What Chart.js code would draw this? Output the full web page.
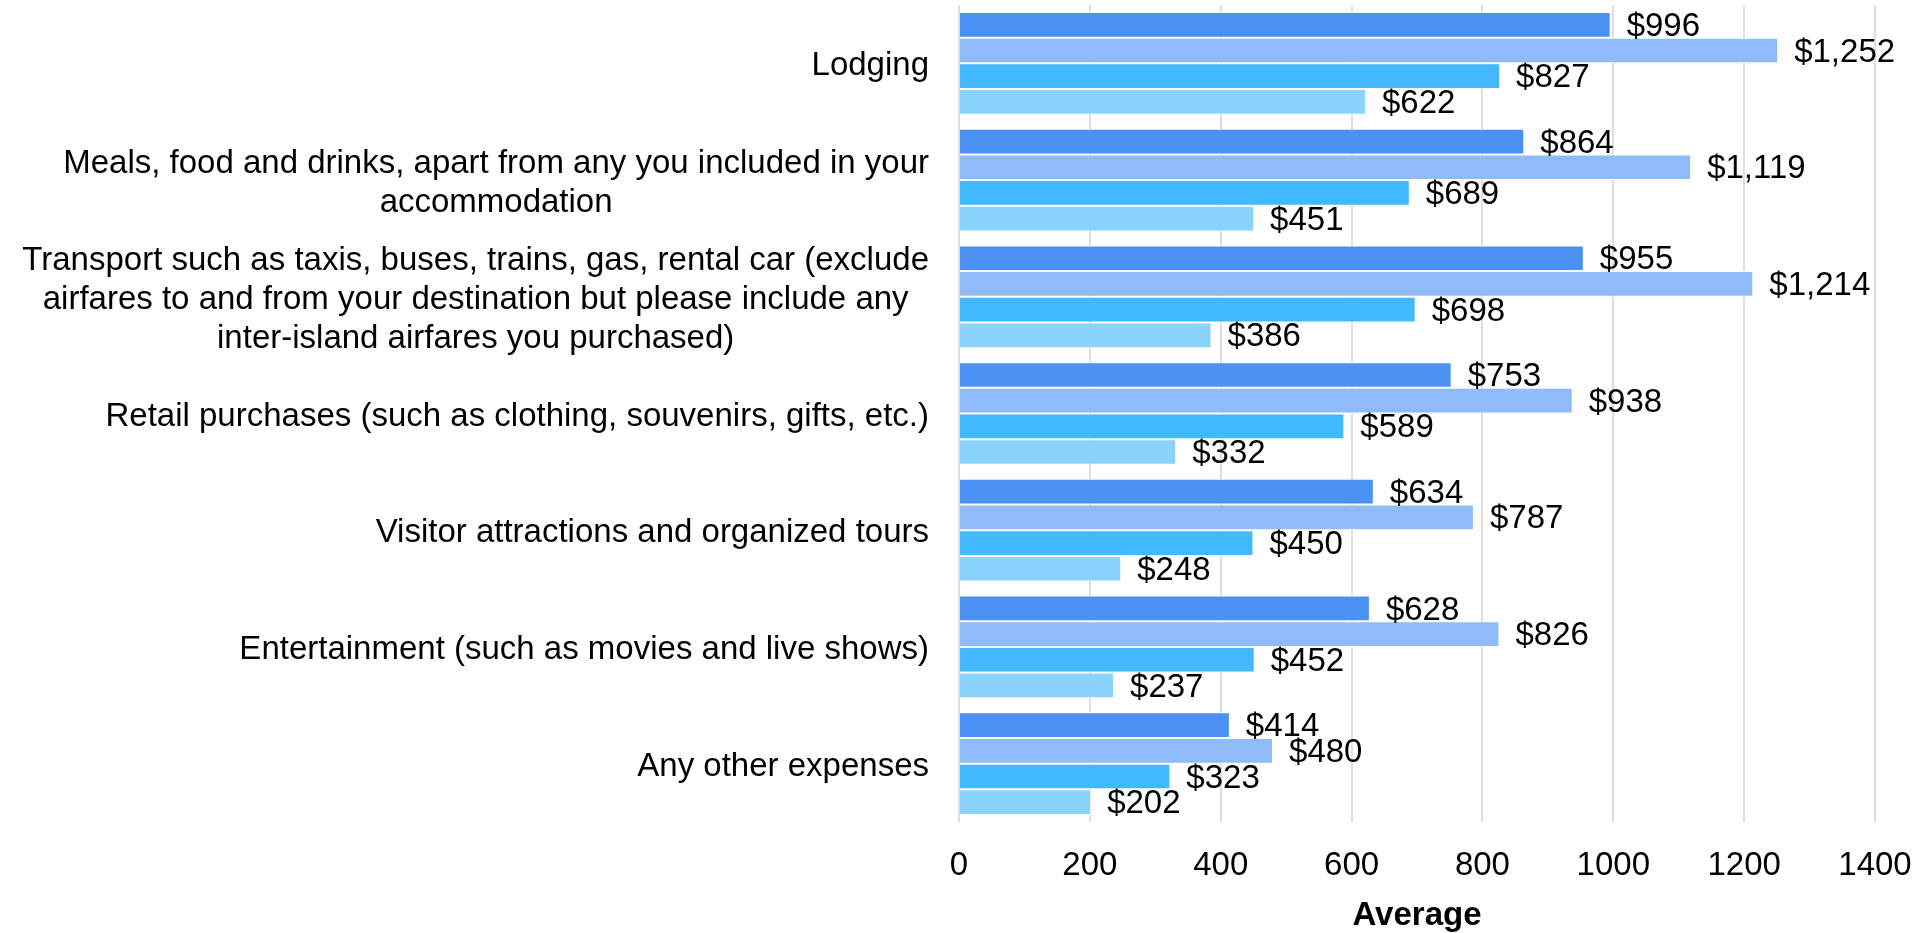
<!DOCTYPE html>
<html lang="en">
<head>
  <meta charset="UTF-8">
  <title>Average spending by category</title>
  <script src="https://cdn.jsdelivr.net/npm/chart.js"></script>
  <style>
    body { margin: 0; background: #fff; }
  </style>
</head>
<body>
  <canvas id="spendChart" width="1916" height="933"></canvas>

  <script>
    const categories = [
      ["Lodging"],
      ["Meals, food and drinks, apart from any you included in your", "accommodation"],
      ["Transport such as taxis, buses, trains, gas, rental car (exclude", "airfares to and from your destination but please include any", "inter-island airfares you purchased)"],
      ["Retail purchases (such as clothing, souvenirs, gifts, etc.)"],
      ["Visitor attractions and organized tours"],
      ["Entertainment (such as movies and live shows)"],
      ["Any other expenses"]
    ];

    const series1 = [996, 864, 955, 753, 634, 628, 414];
    const series2 = [1252, 1119, 1214, 938, 787, 826, 480];
    const series3 = [827, 689, 698, 589, 450, 452, 323];
    const series4 = [622, 451, 386, 332, 248, 237, 202];

    const xTicks = [0, 200, 400, 600, 800, 1000, 1200, 1400];

    const FONT = "'Liberation Sans', Arial, sans-serif";

    // bar end labels like "$1,252"
    const valueLabels = {
      id: 'valueLabels',
      afterDatasetsDraw(chart) {
        const ctx = chart.ctx;
        ctx.save();
        ctx.font = '33px ' + FONT;
        ctx.fillStyle = '#000';
        ctx.textAlign = 'left';
        ctx.textBaseline = 'middle';
        chart.data.datasets.forEach((ds, i) => {
          chart.getDatasetMeta(i).data.forEach((bar, j) => {
            ctx.fillText('$' + ds.data[j].toLocaleString('en-US'), bar.x + 16, bar.y + 2);
          });
        });
        ctx.restore();
      }
    };

    // category labels: block right-aligned, lines centred within the block
    const categoryLabels = {
      id: 'categoryLabels',
      afterDraw(chart) {
        const ctx = chart.ctx;
        const yScale = chart.scales.y;
        const right = chart.chartArea.left - 30;
        const lineH = 39;
        ctx.save();
        ctx.font = '33px ' + FONT;
        ctx.fillStyle = '#000';
        ctx.textAlign = 'center';
        ctx.textBaseline = 'middle';
        categories.forEach((lines, i) => {
          const w = Math.max(...lines.map(l => ctx.measureText(l).width));
          const cx = right - w / 2;
          const cy = yScale.getPixelForValue(i) + 3;
          const top = cy - (lines.length - 1) * lineH / 2;
          lines.forEach((l, k) => ctx.fillText(l, cx, top + k * lineH));
        });
        ctx.restore();
      }
    };

    const ctx = document.getElementById('spendChart').getContext('2d');
    new Chart(ctx, {
      type: 'bar',
      data: {
        labels: categories,
        datasets: [
          { label: 'Series 1', data: series1, backgroundColor: '#4a91f3' },
          { label: 'Series 2', data: series2, backgroundColor: '#8fbcf9' },
          { label: 'Series 3', data: series3, backgroundColor: '#42b8fe' },
          { label: 'Series 4', data: series4, backgroundColor: '#8ad3fd' }
        ]
      },
      options: {
        indexAxis: 'y',
        responsive: false,
        animation: false,
        layout: { padding: { top: 5, right: 41, bottom: 0, left: 0 } },
        datasets: {
          bar: {
            categoryPercentage: 0.88,
            barPercentage: 1.0,
            borderColor: '#ffffff',
            borderWidth: 1
          }
        },
        plugins: {
          legend: { display: false },
          tooltip: { enabled: false }
        },
        scales: {
          x: {
            min: 0,
            max: 1400,
            afterBuildTicks(scale) {
              scale.ticks = xTicks.map(v => ({ value: v }));
            },
            afterFit(scale) { scale.height = 111; },
            grid: { color: '#dedede', lineWidth: 2, drawTicks: true, tickLength: 24, tickColor: 'rgba(0,0,0,0)' },
            border: { display: false },
            ticks: {
              padding: 0,
              color: '#000',
              font: { family: FONT, size: 33 },
              callback: v => String(v)
            },
            title: {
              display: true,
              text: 'Average',
              color: '#000',
              padding: { top: 0, bottom: -3 },
              font: { family: FONT, size: 33, weight: 'bold' }
            }
          },
          y: {
            afterFit(scale) { scale.width = 959; },
            grid: { display: false },
            border: { display: false },
            ticks: { display: false }
          }
        }
      },
      plugins: [valueLabels, categoryLabels]
    });
  </script>
</body>
</html>
